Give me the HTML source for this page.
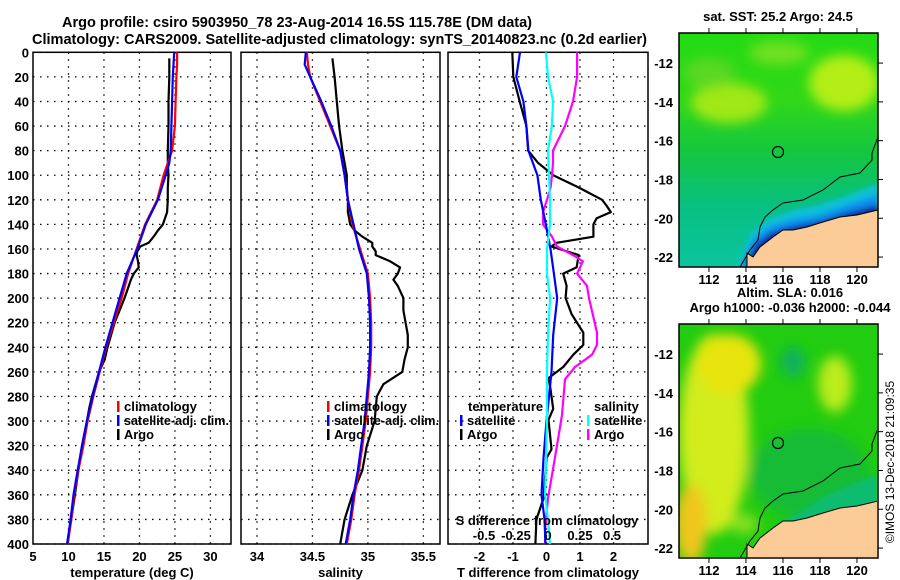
<!DOCTYPE html>
<html><head><meta charset="utf-8"><style>
html,body{margin:0;padding:0;background:#fff;}
svg{display:block;font-family:"Liberation Sans",sans-serif;font-weight:bold;}
</style></head><body>
<svg id="c" width="900" height="580" viewBox="0 0 900 580" xmlns="http://www.w3.org/2000/svg">
<defs>
<filter id="bl" x="-20%" y="-20%" width="140%" height="140%"><feGaussianBlur stdDeviation="6"/></filter>
<filter id="bl2" x="-20%" y="-20%" width="140%" height="140%"><feGaussianBlur stdDeviation="3"/></filter>
<clipPath id="m1c"><rect x="0" y="0" width="199" height="234"/></clipPath>
<clipPath id="m2c"><rect x="0" y="0" width="198" height="233"/></clipPath>
<linearGradient id="g1" x1="0" y1="0" x2="0" y2="1">
<stop offset="0" stop-color="#22dc12"/><stop offset="0.3" stop-color="#30d818"/>
<stop offset="0.5" stop-color="#14c640"/><stop offset="0.7" stop-color="#08c080"/><stop offset="1" stop-color="#0cc6a8"/></linearGradient>
</defs>
<g>
<text x="62" y="27" font-size="15" textLength="470" lengthAdjust="spacingAndGlyphs">Argo profile: csiro 5903950_78 23-Aug-2014 16.5S 115.78E (DM data)</text>
<text x="32" y="44" font-size="15" textLength="615" lengthAdjust="spacingAndGlyphs">Climatology: CARS2009. Satellite-adjusted climatology: synTS_20140823.nc (0.2d earlier)</text>
</g>
<g id="plots"></g>
<g id="maps"></g>
<text transform="translate(894,462) rotate(-90)" text-anchor="middle" font-size="12" font-weight="normal">©IMOS 13-Dec-2018 21:09:35</text>
</svg>
<script>
// ---- data ----
const depthClim = [0,10,20,40,60,80,90,100,120,140,160,180,200,220,240,260,280,300,320,340,360,380,400];
const tempClim = [25.3,25.3,25.2,25.1,25.0,24.6,24.0,23.4,22.5,20.8,19.6,18.4,17.5,16.4,15.3,14.4,13.5,12.7,12.1,11.4,10.8,10.4,9.9];
const tempSat = [24.9,24.8,24.7,24.6,24.5,24.4,24.2,23.7,22.6,20.9,19.7,18.2,17.2,16.2,15.2,14.3,13.4,12.6,11.9,11.3,10.7,10.3,9.8];
const salClim = [34.45,34.46,34.48,34.57,34.66,34.75,34.77,34.79,34.82,34.86,34.93,35.0,35.02,35.03,35.03,35.02,35.0,34.98,34.95,34.92,34.88,34.85,34.81];
const salSat = [34.44,34.43,34.48,34.58,34.67,34.75,34.77,34.79,34.82,34.87,34.92,34.99,35.01,35.02,35.02,35.01,34.99,34.97,34.94,34.91,34.87,34.84,34.8];
const depthArgo = [5,20,40,60,80,90,100,110,120,130,140,145,150,155,158,162,165,170,175,180,185,190,200,210,220,230,240,250,260,270,280,290,300,320,340,360,380,400];
const tempArgo = [24.2,24.2,24.1,24.1,24.0,24.0,24.1,24.0,24.0,23.9,23.3,22.6,22.0,21.3,20.1,19.7,19.6,19.8,19.9,19.2,18.8,18.5,17.9,17.2,16.5,16.0,15.5,15.1,14.3,13.8,13.3,12.9,12.6,11.9,11.4,10.9,10.4,9.8];
const salArgo = [34.68,34.70,34.72,34.74,34.77,34.79,34.81,34.81,34.82,34.82,34.84,34.88,34.95,35.04,35.04,35.07,35.07,35.2,35.29,35.27,35.23,35.27,35.32,35.32,35.34,35.36,35.36,35.33,35.31,35.14,35.08,35.07,35.06,34.99,34.95,34.86,34.79,34.75];
const depthDiff = [0,20,40,60,80,90,100,110,120,125,130,135,140,150,155,158,165,175,180,190,200,213,228,238,246,256,265,274,290,299,323,330,363,380,400];
const tdiffArgo = [-1.02,-0.99,-0.8,-0.6,-0.55,-0.25,0.2,0.96,1.66,1.8,1.92,1.5,1.4,1.4,0.3,0.15,0.96,0.9,0.5,0.6,0.57,0.75,1.1,1.1,0.8,0.5,0.06,0.12,0.2,0.06,0.15,0,-0.09,-0.3,-0.33];
const depthDiff2 = [0,20,40,60,80,100,120,140,160,180,200,230,260,300,330,360,380,400];
const tdiffSat = [-0.79,-0.9,-0.69,-0.6,-0.54,-0.27,-0.17,-0.02,0.12,0.22,0.32,0.2,0.15,0,-0.09,-0.15,-0.06,-0.03];
const sdiffSat = [-0.016,0,0.04,0.03,0,0.008,0.016,0.016,-0.008,-0.008,0.016,0,-0.008,-0.008,-0.016,-0.023,0,0.016];
const depthS = [0,20,40,60,80,90,100,110,120,130,140,150,158,165,170,180,190,200,228,238,246,256,266,295,315,339,363,388,400];
const sdiffArgo = [0.227,0.227,0.195,0.133,0.039,0.039,0.031,0.02,-0.008,-0.039,-0.039,0.031,0.07,0.195,0.273,0.227,0.305,0.32,0.383,0.383,0.344,0.211,0.133,0.109,0.078,0.039,0,-0.023,-0.023];
const depthTicks = [0,20,40,60,80,100,120,140,160,180,200,220,240,260,280,300,320,340,360,380,400];
const tempTicks = [5,10,15,20,25,30];
const salTicks = [34,34.5,35,35.5];
const tdTicks = [-2,-1,0,1,2];
const sdTicks = [-0.5,-0.25,0,0.25,0.5];
const sdTickLabels = ['-0.5','-0.25','0','0.25','0.5'];

const NS='http://www.w3.org/2000/svg';
function mk(tag, attrs, parent){const e=document.createElementNS(NS,tag);for(const k in attrs)e.setAttribute(k,attrs[k]);(parent||document.getElementById('plots')).appendChild(e);return e;}
const Y0=52.3, Y1=544;
function yD(d){return Y0+(d/400)*(Y1-Y0);}
function lin(d0,d1,r0,r1){return v=>r0+(v-d0)/(d1-d0)*(r1-r0);}
const panels=[
 {x0:33,x1:231,sx:lin(5,32.9,33,231),ticks:tempTicks,labels:tempTicks.map(String),title:'temperature (deg C)',name:'temperature'},
 {x0:241,x1:440,sx:lin(33.856,35.65,241,440),ticks:salTicks,labels:salTicks.map(String),title:'salinity',name:'salinity'},
 {x0:448,x1:648,sx:lin(-2.94,3.03,448,648),ticks:tdTicks,labels:tdTicks.map(String),title:'T difference from climatology',name:'tdiff'}
];
const sxS = lin(0,1,548,676);
panels.forEach(p=>{
  const g=mk('g',{});
  
  
  depthTicks.forEach(d=>{
    const l=mk('line',{x1:p.x0,x2:p.x1,y1:yD(d),y2:yD(d),stroke:'#000','stroke-width':1.3,'stroke-dasharray':'1.5 5.5'},g);
    
    
  });
  p.ticks.forEach((t,i)=>{
    const x=p.sx(t);
    if(x>p.x0+3&&x<p.x1-3){
      const l=mk('line',{x1:x,x2:x,y1:Y0,y2:Y1,stroke:'#000','stroke-width':1.3,'stroke-dasharray':'1.5 5.5'},g);
      
      
    }
    const tl=mk('text',{x:x,y:561,'text-anchor':'middle','font-size':13},g);
    tl.textContent=p.labels[i];
    
    
  });
  const tt=mk('text',{x:(p.x0+p.x1)/2,y:577,'text-anchor':'middle','font-size':13},g);
  tt.textContent=p.title;
  
  
  const fr=mk('rect',{x:p.x0,y:Y0,width:p.x1-p.x0,height:Y1-Y0,fill:'none',stroke:'#000','stroke-width':1.5},g);
  
  
});
depthTicks.forEach(d=>{
  const t=mk('text',{x:29,y:yD(d)+5,'text-anchor':'end','font-size':13});
  t.textContent=String(d);
  
  
});
function line(xs,ds,sx,color,name,w){
  const pts=xs.map((v,i)=>sx(v).toFixed(1)+','+yD(ds[i]).toFixed(1)).join(' ');
  const e=mk('polyline',{points:pts,fill:'none',stroke:color,'stroke-width':w||2.2,'stroke-linejoin':'round'});
  
  
}
const P=panels;
line(tempArgo,depthArgo,P[0].sx,'#000','temp-argo-line');
line(tempClim,depthClim,P[0].sx,'#f00','temp-climatology-line');
line(tempSat,depthClim,P[0].sx,'#00f','temp-satellite-line');
line(salArgo,depthArgo,P[1].sx,'#000','salinity-argo-line');
line(salClim,depthClim,P[1].sx,'#f00','salinity-climatology-line');
line(salSat,depthClim,P[1].sx,'#00f','salinity-satellite-line');
line(tdiffArgo,depthDiff,P[2].sx,'#000','tdiff-argo-line');
line(sdiffArgo,depthS,sxS,'#f0f','sdiff-argo-line');
line(tdiffSat,depthDiff2,P[2].sx,'#00f','tdiff-satellite-line');
line(sdiffSat,depthDiff2,sxS,'#0ff','sdiff-satellite-line');
const st=mk('text',{x:547,y:525,'text-anchor':'middle','font-size':13});
st.textContent='S difference from climatology';


sdTicks.forEach((v,i)=>{
  const t=mk('text',{x:sxS(v),y:540,'text-anchor':'middle','font-size':13});
  t.textContent=sdTickLabels[i];
  
  
});
function leg(x,y,color,label,name,len){
  const g=mk('g',{});
  
  
  if(color){mk('rect',{x:x,y:y-10,width:2.5,height:11,fill:color},g);}
  const a={x:x+7,y:y,'font-size':13};
  if(len){a.textLength=len;a.lengthAdjust='spacingAndGlyphs';}
  const t=mk('text',a,g);
  t.textContent=label;
}
[['climatology','#f00',73],['satellite-adj. clim.','#00f',105],['Argo','#000',30]].forEach((a,i)=>leg(117,411+i*14,a[1],a[0],'temp-legend-entry',a[2]));
[['climatology','#f00',73],['satellite-adj. clim.','#00f',105],['Argo','#000',30]].forEach((a,i)=>leg(327,411+i*14,a[1],a[0],'salinity-legend-entry',a[2]));
leg(461,411,null,'temperature','tdiff-legend-heading');
leg(460,425,'#00f','satellite','tdiff-legend-satellite');
leg(460,439,'#000','Argo','tdiff-legend-argo');
leg(587,411,null,'salinity','sdiff-legend-heading');
leg(587,425,'#0ff','satellite','sdiff-legend-satellite');
leg(587,439,'#f0f','Argo','sdiff-legend-argo');

// ---- maps ----
const latTicks=[-12,-14,-16,-18,-20,-22];
const lonTicks=[112,114,116,118,120];
const coast='68,234 68,220 74,224 81,214 94,204 104,197 114,197 128,194 144,189 161,184 178,182 199,177 199,234';
const iso='199,104 193,120 193,127 181,140 161,144 144,157 124,167 104,170 94,177 86,184 81,194 79,207 71,217 61,234';
function map(top,name,clipId,fillFn,titles){
  const M=document.getElementById('maps');
  const g=mk('g',{transform:'translate(679,'+top+')'},M);
  
  
  const inner=mk('g',{'clip-path':'url(#'+clipId+')'},g);
  fillFn(inner);
  const land=mk('polygon',{points:coast,fill:'#fbcb98',stroke:'#000','stroke-width':1},inner);
  
  
  const il=mk('polyline',{points:iso,fill:'none',stroke:'#000','stroke-width':1},inner);
  
  
  const c=mk('circle',{cx:99,cy:119,r:5.5,fill:'none',stroke:'#000','stroke-width':1.2},g);
  
  
  const f=mk('rect',{x:0,y:0,width:199,height:234,fill:'none',stroke:'#000','stroke-width':1.5},g);
  
  
  latTicks.forEach(l=>{
    const y=(-10.45-l)*19.4;
    mk('line',{x1:199,x2:204,y1:y,y2:y,stroke:'#000'},g);
    const t=mk('text',{x:-6,y:y+5,'text-anchor':'end','font-size':13},g);
    t.textContent=String(l);
    
    
  });
  lonTicks.forEach(l=>{
    const x=(l-110.38)*18.5;
    mk('line',{x1:x,x2:x,y1:0,y2:-5,stroke:'#000'},g);
    mk('line',{x1:x,x2:x,y1:234,y2:239,stroke:'#000'},g);
    const t=mk('text',{x:x,y:251,'text-anchor':'middle','font-size':13},g);
    t.textContent=String(l);
    
    
  });
  titles.forEach((s,i)=>{
    const t=mk('text',{x:s[1],y:s[2],'text-anchor':'middle','font-size':13},g);
    t.textContent=s[0];
    
    
  });
}
map(33,'sst-map','m1c',g=>{
  mk('rect',{x:-10,y:-10,width:220,height:260,fill:'url(#g1)'},g);
  const b=mk('g',{filter:'url(#bl)'},g);
  mk('ellipse',{cx:165,cy:50,rx:35,ry:28,fill:'#b4ee14'},b);
  mk('ellipse',{cx:50,cy:70,rx:38,ry:20,fill:'#a0e818'},b);
  mk('ellipse',{cx:100,cy:20,rx:30,ry:12,fill:'#70e020'},b);
  mk('ellipse',{cx:30,cy:40,rx:25,ry:15,fill:'#5ad820'},b);
  const c=mk('g',{filter:'url(#bl2)'},g);
  mk('polygon',{points:'58,234 72,200 90,186 112,178 140,172 170,162 199,150 199,234',fill:'#10c0d8'},c);
  mk('polygon',{points:'62,234 74,206 92,193 112,187 140,182 168,172 199,162 199,234',fill:'#0a8cf0'},c);
  mk('polygon',{points:'66,234 76,212 92,200 112,194 140,189 168,180 199,172 199,234',fill:'#0a1e98'},c);
},[['sat. SST: 25.2 Argo: 24.5',99,-12]]);
map(324,'sla-map','m2c',g=>{
  mk('rect',{x:-10,y:-10,width:220,height:260,fill:'#22cc10'},g);
  const b=mk('g',{filter:'url(#bl)'},g);
  mk('ellipse',{cx:130,cy:150,rx:60,ry:45,fill:'#16bc34'},b);
  mk('ellipse',{cx:35,cy:110,rx:35,ry:100,fill:'#d2ec1c'},b);
  mk('ellipse',{cx:50,cy:40,rx:32,ry:30,fill:'#e8e410'},b);
  mk('ellipse',{cx:12,cy:200,rx:16,ry:40,fill:'#f0c61c'},b);
  mk('ellipse',{cx:156,cy:60,rx:17,ry:28,fill:'#bcec1a'},b);
  mk('ellipse',{cx:114,cy:38,rx:12,ry:15,fill:'#10b060'},b);
  mk('ellipse',{cx:65,cy:200,rx:14,ry:10,fill:'#88e020'},b);
  mk('polygon',{points:'100,200 150,170 199,150 199,234 100,234',fill:'#0cbc70',filter:'url(#bl2)'},g);
},[['Altim. SLA: 0.016',111,-27],['Argo h1000: -0.036 h2000: -0.044',111,-12]]);
</script>
</body></html>
